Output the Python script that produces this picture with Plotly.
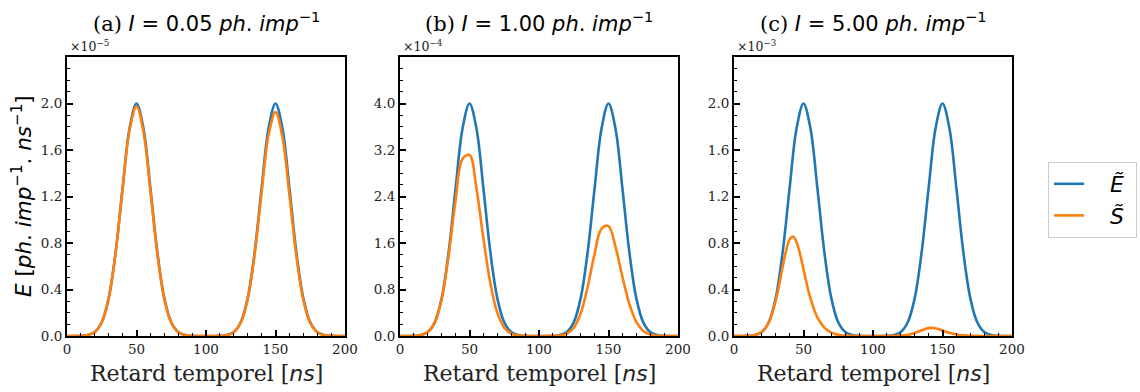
import plotly.graph_objects as go

# ---------------- data (displayed units) ----------------
T_NS = [0, 5, 10, 15, 20, 25, 30, 35, 40, 45, 50, 55, 60, 65, 70, 75, 80, 85, 90, 95,
        100, 105, 110, 115, 120, 125, 130, 135, 140, 145, 150, 155, 160, 165, 170, 175,
        180, 185, 190, 195, 200]

# panel (a)  I = 0.05   (x 1e-5)
E_A = [0.000, 0.000, 0.001, 0.008, 0.034, 0.118, 0.326, 0.721, 1.271, 1.786, 2.000,
       1.786, 1.271, 0.721, 0.326, 0.118, 0.034, 0.008, 0.001, 0.000, 0.000,
       0.000, 0.001, 0.008, 0.034, 0.118, 0.326, 0.721, 1.271, 1.786, 2.000,
       1.786, 1.271, 0.721, 0.326, 0.118, 0.034, 0.008, 0.001, 0.000, 0.000]
S_A = [0.000, 0.000, 0.001, 0.008, 0.034, 0.118, 0.326, 0.720, 1.266, 1.772, 1.975,
       1.756, 1.245, 0.705, 0.318, 0.115, 0.033, 0.008, 0.001, 0.000, 0.000,
       0.000, 0.001, 0.008, 0.033, 0.115, 0.318, 0.702, 1.234, 1.728, 1.926,
       1.712, 1.214, 0.687, 0.310, 0.112, 0.032, 0.007, 0.001, 0.000, 0.000]

# panel (b)  I = 1.00   (x 1e-4)
E_B = [0.000, 0.000, 0.003, 0.016, 0.068, 0.235, 0.652, 1.442, 2.542, 3.571, 4.000,
       3.571, 2.542, 1.442, 0.652, 0.235, 0.068, 0.016, 0.003, 0.000, 0.000,
       0.000, 0.003, 0.016, 0.068, 0.235, 0.652, 1.442, 2.542, 3.571, 4.000,
       3.571, 2.542, 1.442, 0.652, 0.235, 0.068, 0.016, 0.003, 0.000, 0.000]
S_B = [0.000, 0.000, 0.003, 0.016, 0.067, 0.234, 0.643, 1.388, 2.334, 3.048, 3.115,
       2.538, 1.679, 0.909, 0.401, 0.143, 0.041, 0.009, 0.002, 0.000, 0.000,
       0.000, 0.002, 0.009, 0.041, 0.142, 0.390, 0.842, 1.416, 1.849, 1.890,
       1.539, 1.018, 0.551, 0.243, 0.087, 0.025, 0.006, 0.001, 0.000, 0.000]

# panel (c)  I = 5.00   (x 1e-3)
E_C = [0.000, 0.000, 0.001, 0.008, 0.034, 0.118, 0.326, 0.721, 1.271, 1.786, 2.000,
       1.786, 1.271, 0.721, 0.326, 0.118, 0.034, 0.008, 0.001, 0.000, 0.000,
       0.000, 0.001, 0.008, 0.034, 0.118, 0.326, 0.721, 1.271, 1.786, 2.000,
       1.786, 1.271, 0.721, 0.326, 0.118, 0.034, 0.008, 0.001, 0.000, 0.000]
T_NS_SC = [0, 5, 10, 15, 20, 25, 30, 35, 37.5, 40, 42.5, 45, 47.5, 50, 55, 60, 65, 70,
           75, 80, 85, 90, 95, 100, 105, 110, 115, 120, 125, 130, 135, 137.5, 140,
           142.5, 145, 147.5, 150, 155, 160, 165, 170, 175, 180, 185, 190, 195, 200]
S_C = [0.000, 0.000, 0.001, 0.008, 0.034, 0.115, 0.304, 0.596, 0.735, 0.830, 0.856,
       0.808, 0.705, 0.573, 0.324, 0.160, 0.072, 0.029, 0.010, 0.003, 0.001, 0.000,
       0.000, 0.000, 0.000, 0.000, 0.001, 0.003, 0.009, 0.025, 0.049, 0.060, 0.068,
       0.070, 0.066, 0.058, 0.047, 0.027, 0.013, 0.006, 0.002, 0.001, 0.000, 0.000,
       0.000, 0.000, 0.000]

PANEL_TITLES = ["(a) ", "(b) ", "(c) "]
PANEL_I = ["0.05", "1.00", "5.00"]
PANEL_EXP = ["−5", "−4", "−3"]

X_TICKS = [0, 50, 100, 150, 200]
X_MINOR = [10, 20, 30, 40, 60, 70, 80, 90, 110, 120, 130, 140, 160, 170, 180, 190]
Y_TICKS_AC = [0.0, 0.4, 0.8, 1.2, 1.6, 2.0]
Y_TICKS_B = [0.0, 0.8, 1.6, 2.4, 3.2, 4.0]
Y_MINOR_AC = [round(0.1 * i, 1) for i in range(1, 24)]
Y_MINOR_B = [round(0.2 * i, 1) for i in range(1, 24)]
Y_MAX = [2.4, 4.8, 2.4]

BLUE = "#1f77b4"
ORANGE = "#ff7f0e"

# ---------------- layout ----------------
W, H = 1140, 392
PX_LEFT = [67, 400, 734]
PX_W = 278
PX_TOP, PX_BOT = 57, 336

SERIF = "DejaVu Serif"
SANS = "DejaVu Sans"
LEAD = "&nbsp;" * 3
TRAIL = "&nbsp;" * 1

fig = go.Figure()

series = [(T_NS, E_A, T_NS, S_A), (T_NS, E_B, T_NS, S_B), (T_NS, E_C, T_NS_SC, S_C)]
for i, (te, e, ts, s) in enumerate(series):
    xa = "x" if i == 0 else f"x{i+1}"
    ya = "y" if i == 0 else f"y{i+1}"
    fig.add_trace(go.Scatter(x=te, y=e, mode="lines", xaxis=xa, yaxis=ya,
                             line=dict(color=BLUE, width=2.6, shape="spline"),
                             name=LEAD + "<i>Ẽ</i>" + TRAIL, legendgroup="E",
                             showlegend=(i == 0)))
    fig.add_trace(go.Scatter(x=ts, y=s, mode="lines", xaxis=xa, yaxis=ya,
                             line=dict(color=ORANGE, width=2.6, shape="spline"),
                             name=LEAD + "<i>S\u0303</i>" + TRAIL, legendgroup="S",
                             showlegend=(i == 0)))

ydom = [1 - PX_BOT / H, 1 - PX_TOP / H]
annotations = []
for i in range(3):
    sfx = "" if i == 0 else str(i + 1)
    xdom = [PX_LEFT[i] / W, (PX_LEFT[i] + PX_W) / W]
    yt = Y_TICKS_B if i == 1 else Y_TICKS_AC
    ym = Y_MINOR_B if i == 1 else Y_MINOR_AC
    fig.layout["xaxis" + sfx] = dict(
        domain=xdom, anchor="y" + sfx, range=[0, 200], automargin=False,
        tickvals=X_TICKS, ticktext=[str(v) for v in X_TICKS],
        ticks="inside", ticklen=6, tickwidth=1.6, tickcolor="black",
        minor=dict(tickvals=X_MINOR, ticks="inside", ticklen=3, tickwidth=1.3, tickcolor="black"),
        showline=True, linecolor="black", linewidth=2, mirror=True,
        showgrid=False, zeroline=False,
        tickfont=dict(family=SERIF, size=13.5, color="#222"),
    )
    fig.layout["yaxis" + sfx] = dict(
        domain=ydom, anchor="x" + sfx, range=[0, Y_MAX[i]], automargin=False,
        tickvals=yt, ticktext=[f"{v:.1f}" for v in yt],
        ticks="inside", ticklen=6, tickwidth=1.6, tickcolor="black",
        minor=dict(tickvals=ym, ticks="inside", ticklen=3, tickwidth=1.3, tickcolor="black"),
        showline=True, linecolor="black", linewidth=2, mirror=True,
        showgrid=False, zeroline=False,
        tickfont=dict(family=SERIF, size=13.5, color="#222"),
    )
    cx = (PX_LEFT[i] + PX_W / 2) / W
    annotations.append(dict(
        xref="paper", yref="paper", x=cx, y=1 - 22 / H, xanchor="center", yanchor="middle",
        showarrow=False,
        text=(f"<span style=\"font-family:'{SERIF}'\">{PANEL_TITLES[i]}</span>"
              f"<i>I</i> = {PANEL_I[i]} <i>ph</i>. <i>imp</i><sup>−1</sup>"),
        font=dict(family=SANS, size=21, color="black")))
    annotations.append(dict(
        xref="paper", yref="paper", x=(PX_LEFT[i] + 1) / W, y=1 - 46 / H,
        xanchor="left", yanchor="middle", showarrow=False,
        text=f"×10<sup>{PANEL_EXP[i]}</sup>",
        font=dict(family=SERIF, size=12.5, color="#222")))
    annotations.append(dict(
        xref="paper", yref="paper", x=cx, y=1 - 373 / H, xanchor="center", yanchor="middle",
        showarrow=False,
        text=f"Retard temporel [<span style=\"font-family:'{SANS}'\"><i>ns</i></span>]",
        font=dict(family=SERIF, size=22, color="#222")))

annotations.append(dict(
    xref="paper", yref="paper", x=22 / W, y=1 - 196 / H, xanchor="center", yanchor="middle",
    showarrow=False, textangle=-90,
    text="<i>E</i> [<i>ph</i>. <i>imp</i><sup>−1</sup>. <i>ns</i><sup>−1</sup>]",
    font=dict(family=SANS, size=21.5, color="black")))

fig.update_layout(
    width=W, height=H, autosize=False, margin=dict(l=0, r=0, t=0, b=0, pad=0),
    paper_bgcolor="white", plot_bgcolor="white",
    annotations=annotations,
    showlegend=True,
    legend=dict(x=1048 / W, y=1 - 162 / H, xanchor="left", yanchor="top",
                bordercolor="#cccccc", borderwidth=1, bgcolor="white",
                font=dict(family=SANS, size=22, color="black"),
                tracegroupgap=0),
)

fig.write_html("out.html")
